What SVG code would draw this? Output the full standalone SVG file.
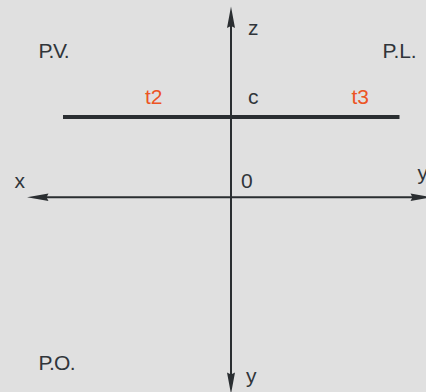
<svg xmlns="http://www.w3.org/2000/svg" width="426" height="392" viewBox="0 0 426 392">
  <style>
    .lbl { font-family: "Liberation Sans", Arial, sans-serif; font-size: 21px; fill: #30353a; }
    .red { fill: #ec5424; }
    .axis { stroke: #2a2e31; stroke-width: 2; fill: none; }
    .head { fill: #2a2e31; }
  </style>
  <rect width="426" height="392" fill="#e0e0e0"/>
  <g id="connectors">
    <line class="axis" x1="231" y1="20" x2="231" y2="385"/>
    <polygon class="head" points="231,6.5 235,28 231,26 227,28"/>
    <polygon class="head" points="231,394 235,372.5 231,374.5 227,372.5"/>
    <line class="axis" x1="40" y1="197.3" x2="420" y2="197.3"/>
    <polygon class="head" points="27,197.3 48.5,193.5 46.5,197.3 48.5,201.1"/>
    <polygon class="head" points="432,197.3 410.5,193.5 412.5,197.3 410.5,201.1"/>
    <line x1="63" y1="117" x2="399.5" y2="117" stroke="#2a2e31" stroke-width="4"/>
  </g>
  <g id="labels">
    <text class="lbl" x="248" y="35">z</text>
    <text class="lbl" x="38.5" y="57.5" textLength="31" lengthAdjust="spacing">P.V.</text>
    <text class="lbl" x="382.5" y="57.5" textLength="34" lengthAdjust="spacing">P.L.</text>
    <text class="lbl red" x="145" y="104">t2</text>
    <text class="lbl" x="248" y="104">c</text>
    <text class="lbl red" x="351.5" y="104">t3</text>
    <text class="lbl" x="14.5" y="188.3">x</text>
    <text class="lbl" x="241" y="188.3">0</text>
    <text class="lbl" x="417.5" y="180">y</text>
    <text class="lbl" x="38.5" y="370" textLength="37" lengthAdjust="spacing">P.O.</text>
    <text class="lbl" x="246" y="383">y</text>
  </g>
</svg>
